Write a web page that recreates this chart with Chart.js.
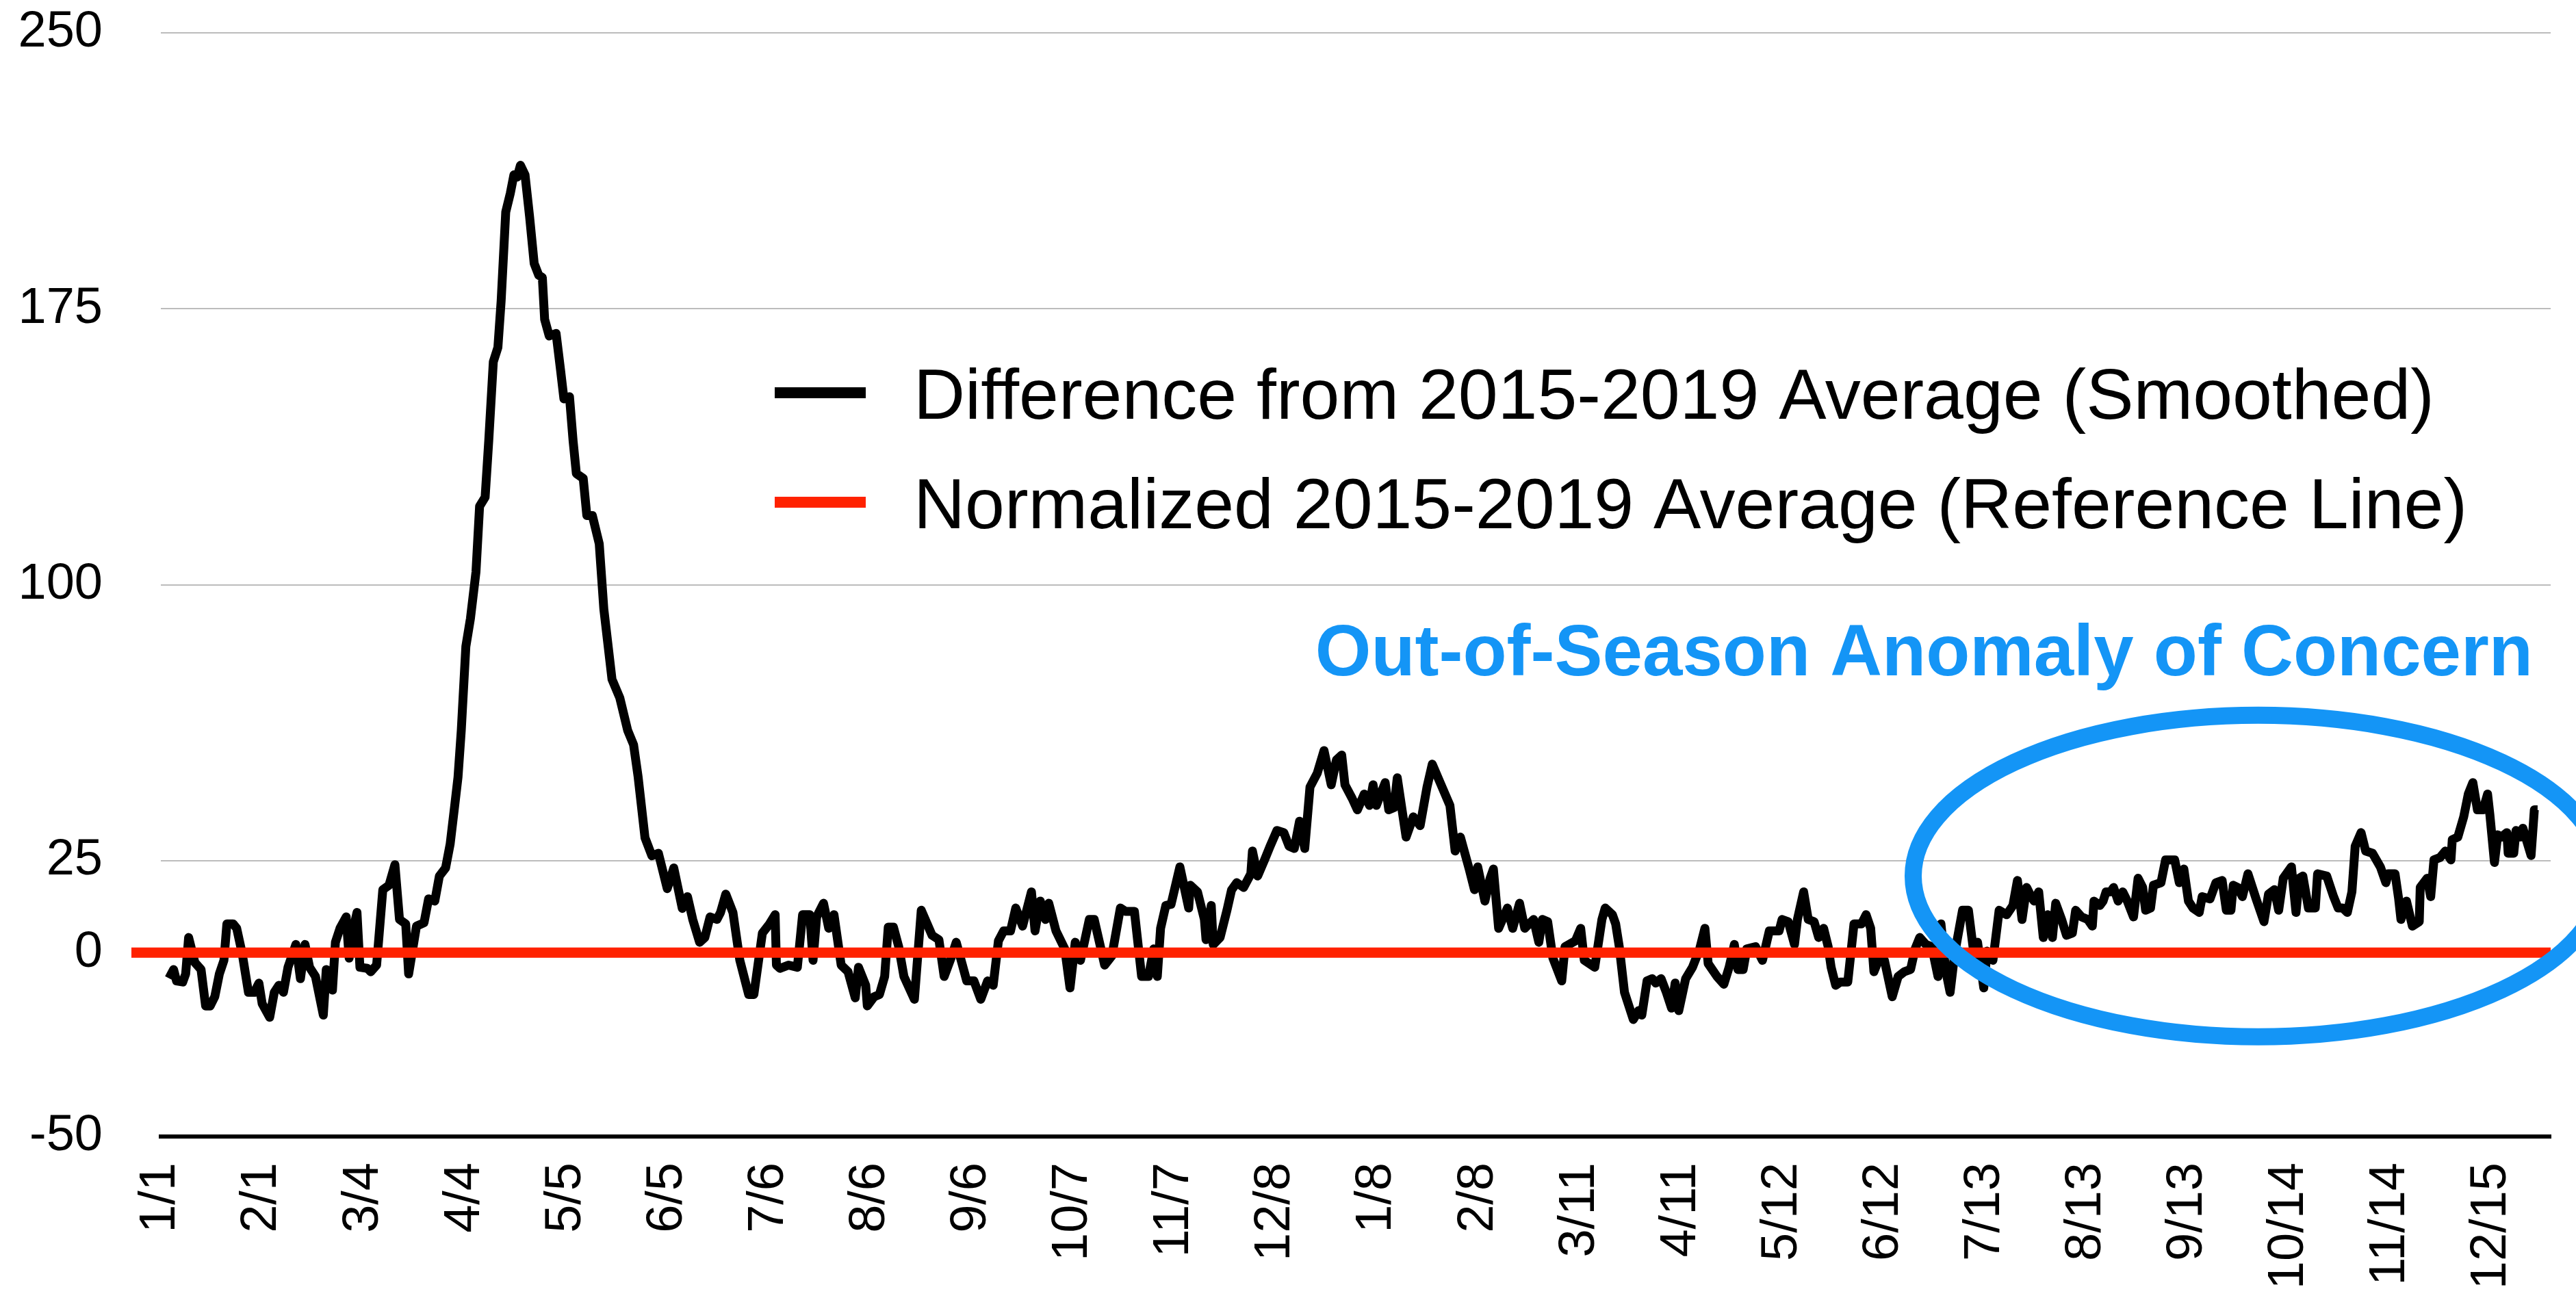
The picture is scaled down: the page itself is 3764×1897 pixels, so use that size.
<!DOCTYPE html>
<html>
<head>
<meta charset="utf-8">
<title>Difference from 2015-2019 Average</title>
<script src="https://cdn.jsdelivr.net/npm/chart.js@4.4.1/dist/chart.umd.min.js"></script>
<style>
  html, body { margin: 0; padding: 0; background: #fff; }
  #wrap { width: 3764px; height: 1897px; }
</style>
</head>
<body>
<div id="wrap"><canvas id="chart" width="3764" height="1897"></canvas></div>
<script>
/* Daily smoothed difference vs the 2015-2019 average, two years of data.
   Day 0 = 1/1 of the first year. */

// x-axis tick labels, one every 31 days
const tickLabels = [
  '1/1', '2/1', '3/4', '4/4', '5/5', '6/5', '7/6', '8/6', '9/6', '10/7', '11/7', '12/8',
  '1/8', '2/8', '3/11', '4/11', '5/12', '6/12', '7/13', '8/13', '9/13', '10/14', '11/14', '12/15',
];
const TICK_STEP = 31;

const yTicks = [-50, 0, 25, 100, 175, 250];

const seriesLabels = [
  'Difference from 2015-2019 Average (Smoothed)',
  'Normalized 2015-2019 Average (Reference Line)',
];
const annotationText = 'Out-of-Season Anomaly of Concern';

const days = [
  2.5, 3.9, 4.8, 6.7, 7.6, 8.5, 10.4, 12.3, 13.7, 15.1, 16.5, 17.9, 19.3, 20.2, 22.1, 23.2,
  24.9, 26.8, 28.6, 30.0, 31.0, 33.3, 34.7, 36.1, 37.5, 38.9, 41.3, 42.7, 44.1, 45.5, 47.3, 49.7,
  50.6, 52.5, 53.4, 54.8, 56.7, 57.6, 58.6, 60.0, 60.9, 63.2, 64.2, 66.0, 67.9, 69.8, 71.6, 73.0,
  74.9, 75.8, 78.2, 80.5, 81.9, 83.8, 85.2, 87.1, 88.5, 89.9, 90.9, 91.9, 93.3, 94.7, 96.4, 97.5,
  99.2, 100.3, 101.7, 103.1, 104.1, 105.5, 106.9, 108.0, 109.0, 110.0, 111.4, 112.8, 114.2, 115.6, 116.7, 117.4,
  118.8, 120.9, 122.3, 123.3, 125.0, 126.1, 127.1, 129.2, 130.3, 132.0, 134.1, 135.5, 138.0, 140.4, 142.8, 144.6,
  146.0, 148.1, 150.2, 152.2, 154.9, 156.9, 159.5, 161.1, 162.7, 164.8, 166.4, 168.0, 170.1, 171.2, 172.8, 175.0,
  177.1, 179.8, 181.4, 184.0, 186.2, 187.9, 188.3, 189.4, 192.0, 194.7, 196.3, 198.5, 199.5, 200.6, 202.7, 204.3,
  205.9, 208.1, 210.2, 212.4, 213.4, 215.6, 216.1, 218.2, 219.8, 221.4, 222.5, 224.1, 225.7, 227.3, 230.5, 232.6,
  235.9, 238.0, 239.6, 241.7, 243.3, 246.5, 248.7, 250.8, 252.9, 254.6, 256.2, 257.8, 259.9, 261.5, 263.6, 266.3,
  267.4, 269.0, 270.6, 271.6, 273.8, 276.5, 278.1, 279.7, 281.3, 284.0, 285.5, 288.7, 290.9, 293.5, 295.1, 297.8,
  300.0, 302.1, 303.7, 304.8, 305.8, 307.4, 309.0, 311.7, 314.4, 314.9, 317.1, 319.2, 319.7, 321.3, 321.9, 324.0,
  326.1, 327.5, 329.1, 331.2, 333.4, 333.9, 335.5, 337.6, 339.3, 341.4, 343.5, 345.1, 346.7, 348.3, 349.9, 351.5,
  353.7, 355.8, 358.0, 359.6, 361.2, 362.2, 364.4, 366.0, 368.1, 369.7, 370.8, 371.8, 374.5, 375.6, 377.2, 378.2,
  380.9, 383.1, 385.2, 387.3, 388.9, 391.6, 394.3, 395.9, 397.5, 400.2, 401.8, 402.8, 405.0, 406.6, 407.6, 409.2,
  411.9, 413.5, 415.6, 417.2, 419.9, 421.5, 422.6, 424.2, 425.8, 428.5, 429.5, 432.7, 434.3, 435.4, 438.6, 440.8,
  441.8, 444.0, 445.0, 446.1, 447.7, 450.4, 452.0, 453.0, 454.6, 456.2, 457.3, 458.9, 460.5, 462.1, 463.2, 464.3,
  466.4, 468.5, 470.7, 472.3, 473.3, 476.0, 478.1, 479.7, 481.3, 482.4, 484.0, 485.1, 487.8, 489.9, 492.0, 495.0,
  495.9, 497.8, 499.7, 500.6, 502.5, 503.9, 505.7, 507.1, 508.6, 510.0, 510.9, 512.3, 513.7, 516.0, 517.9, 520.2,
  521.6, 523.0, 524.0, 525.4, 527.2, 529.6, 531.4, 533.3, 535.2, 536.6, 538.0, 539.9, 541.7, 543.6, 544.5, 545.9,
  547.3, 548.7, 551.1, 552.9, 554.3, 555.7, 557.6, 558.6, 560.4, 562.3, 564.6, 566.5, 567.9, 569.3, 570.7, 572.1,
  573.0, 574.4, 575.8, 577.2, 578.6, 579.6, 581.4, 582.9, 584.7, 585.7, 587.5, 589.4, 590.8, 591.3, 593.1, 594.1,
  595.0, 596.4, 597.3, 598.7, 600.1, 601.5, 603.4, 604.8, 606.2, 607.1, 608.6, 609.5, 611.8, 613.2, 616.0, 617.4,
  618.8, 620.2, 621.6, 623.5, 624.4, 626.8, 628.6, 630.5, 631.8, 633.2, 633.9, 635.3, 636.7, 638.4, 640.9, 643.3,
  644.7, 646.5, 647.8, 649.2, 651.7, 653.1, 654.1, 655.2, 656.9, 659.0, 659.7, 662.5, 664.6, 666.0, 667.4, 668.8,
  670.2, 671.2, 673.0, 674.4, 676.5, 678.9, 680.6, 681.3, 683.4, 684.5, 685.2, 686.9, 688.7, 690.8, 691.1, 693.2,
  694.3, 695.3, 697.1, 698.8, 700.5, 700.9, 702.6, 704.4, 705.8, 707.2, 708.6, 710.3, 711.7, 712.4, 713.8, 714.8,
  715.9, 717.6, 718.0, 719.7, 720.4, 721.8, 722.5, 725.0, 726.0, 727.0,
];

const diffValues = [
  -7, -4.6, -7.7, -8, -5.8, 4.1, -2.7, -4.6, -14.5, -14.5, -12, -5.8, -2.1, 7.8, 7.8, 6.6,
  -0.3, -10.8, -10.8, -8.3, -13.9, -17.6, -10.8, -8.9, -10.8, -4, 2.2, -7.1, 2.2, -4, -6.5, -17,
  -4.6, -10.2, 2.8, 6.6, 9.7, -1.5, 5.3, 10.9, -4, -4.3, -5.2, -3.4, 17.1, 18.3, 23.9, 9,
  7.8, -5.8, 7.2, 8.1, 14.6, 14, 20.8, 23, 29.5, 40, 47.7, 60.4, 83.2, 90.8, 103.5, 121.3,
  123.8, 139.1, 160.6, 164.5, 177.2, 201.3, 206.4, 211.4, 210.8, 214, 211.4, 200, 187.3, 184.1, 183.5, 172.1,
  167.6, 168.3, 158.1, 150.5, 151.1, 139.1, 130.2, 128.9, 118.8, 118.8, 111.1, 93.4, 74.3, 69.2, 60.4, 56.5,
  47.7, 31.2, 26.3, 27, 17.4, 23, 12, 15.2, 9, 2.8, 4.1, 9.7, 9, 10.9, 15.9, 10.9,
  -2.1, -11.4, -11.4, 5.3, 7.8, 10.3, -3.4, -4.3, -3.4, -4, 10.3, 10.3, -2.1, 9.7, 13.4, 6.6,
  10.3, -3.4, -5.2, -12.3, -4, -8.9, -14.5, -12, -11.4, -6.5, 6.9, 6.9, 1.6, -6.5, -12.7, 11.5,
  4.7, 3.5, -6.5, -1.5, 2.8, -7.7, -7.7, -12.7, -7.7, -8.9, 3.2, 5.9, 5.9, 12.1, 7.2, 16.5,
  5.9, 14, 9, 13.4, 5.9, 1, -9.6, 2.8, -2.1, 9, 9, -3.4, -0.9, 12.1, 11.2, 11.2,
  -6.5, -6.5, 1, -6.5, 6.6, 12.8, 13.1, 23.3, 12.1, 18.3, 16.5, 9, 3.5, 12.8, 2.2, 4.1,
  11.5, 17, 19, 17.7, 21.4, 27.6, 20.8, 25.2, 28.9, 33.2, 32.6, 28.9, 28.3, 35.7, 28.3, 45,
  48.7, 54.9, 45.6, 52.4, 53.7, 45.6, 41.9, 38.8, 43.1, 40, 45.6, 40, 46.2, 38.8, 39.4, 47.5,
  31.4, 36.9, 34.5, 45, 51.2, 45.6, 40, 27.6, 31.4, 22.7, 17.1, 23.3, 14, 20.2, 22.7, 6.6,
  12.1, 6.6, 13.4, 6.6, 9, 2.8, 9, 8.4, -1.5, -7.7, 1.6, 3.2, 6.6, -2.1, -4, 9,
  12.1, 10.3, 7.8, 1.6, -10.8, -18.2, -15.8, -17, -7.7, -7.1, -8.3, -7.1, -10.8, -15.1, -8.3, -15.8,
  -7.1, -4, 1, 6.6, -3, -6.5, -8.6, -4, 2.2, -4.6, -4.6, 1, 1.6, -2.1, 5.9, 5.9,
  9, 8.4, 2.2, 9, 16.5, 9, 8.4, 4.1, 6.6, 1.6, -4, -8.9, -8, -8, 7.8, 7.8,
  10.3, 6.6, -5.2, -2.1, -2.1, -12, -6.5, -5.2, -4.6, 1, 4.1, 2.2, 1.6, -6.5, 7.8, -4.6,
  -10.8, -0.3, 11.5, 11.5, 1.6, 2.8, -9.6, 0.4, -2.1, 11.5, 10.3, 12.8, 19.6, 9, 17.7, 15.2,
  14, 16.5, 4.1, 10.3, 4.1, 13.4, 9, 4.7, 5.3, 11.5, 9.7, 9, 7.2, 14, 12.8, 14,
  16.5, 16.5, 17.7, 14, 16.5, 14, 9.7, 20.2, 17.7, 11.5, 12.1, 18.3, 19, 25.2, 25.2, 19,
  22.7, 14, 12.1, 10.9, 15.2, 14.6, 19, 19.6, 11.5, 11.5, 18.3, 17.7, 15.2, 21.4, 14.6, 8.4,
  15.9, 17.1, 11.5, 20.2, 23.3, 10.9, 20.2, 20.8, 12.1, 12.1, 21.4, 20.8, 15.2, 12.1, 12.1, 10.9,
  16.5, 28.9, 32.6, 27.6, 27, 23.3, 19, 21.4, 21.4, 14.6, 9, 14, 7.2, 8.4, 17.7, 20.2,
  15.2, 25.2, 25.8, 27.6, 25.2, 30.7, 31.4, 36.9, 43.1, 46.2, 38.8, 38.8, 43.1, 37.5, 24.5, 32,
  31.4, 32.6, 27, 27, 33.2, 31.4, 33.8, 26.4, 38.8, 38.8,
];

// the flat reference line (it runs a little past the left edge of the plot)
const refDays = [-9, 731];
const refValues = [0, 0];

const FONT = '"Liberation Sans", Arial, Helvetica, sans-serif';
const BLUE = '#1495f6';
const RED = '#ff2200';

// Legend, callout text and the ellipse round the anomaly
const overlayPlugin = {
  id: 'overlay',
  afterDatasetsDraw(chart) {
    const { ctx, scales: { x, y } } = chart;
    ctx.save();

    // ellipse, placed in data units
    const cx = x.getPixelForValue(641.5);
    const cy = y.getPixelForValue(20.8);
    const rx = x.getPixelForValue(641.5 + 105.5) - cx;
    const ry = cy - y.getPixelForValue(20.8 + 43.7);
    ctx.beginPath();
    ctx.ellipse(cx, cy, rx, ry, 0, 0, Math.PI * 2);
    ctx.strokeStyle = BLUE;
    ctx.lineWidth = 25;
    ctx.stroke();

    ctx.font = 'bold 105px ' + FONT;
    ctx.fillStyle = BLUE;
    ctx.textAlign = 'right';
    ctx.textBaseline = 'alphabetic';
    ctx.fillText(annotationText, 3701, 987);

    // legend rows
    const rows = [574, 734];
    ctx.font = '104px ' + FONT;
    ctx.textAlign = 'left';
    chart.data.datasets.forEach((ds, i) => {
      ctx.fillStyle = ds.borderColor;
      ctx.fillRect(1132, rows[i] - 8, 133, 16);
      ctx.fillStyle = '#000';
      ctx.fillText(ds.label, 1335, rows[i] + 38);
    });
    ctx.restore();
  },
};

const tickFont = { family: FONT, size: 74 };

// keep the tick labels from pushing the plot area inwards
function noLabelPadding(s) {
  s.paddingTop = 0;
  s.paddingBottom = 0;
  s.paddingLeft = 0;
  s.paddingRight = 0;
}

new Chart(document.getElementById('chart'), {
  type: 'line',
  data: {
    datasets: [
      {
        label: seriesLabels[0],
        data: days.map((d, i) => ({ x: d, y: diffValues[i] })),
        borderColor: '#000',
        borderWidth: 13,
        borderJoinStyle: 'round',
        pointRadius: 0,
        tension: 0,
        order: 2,
      },
      {
        label: seriesLabels[1],
        data: refDays.map((d, i) => ({ x: d, y: refValues[i] })),
        borderColor: RED,
        borderWidth: 15,
        pointRadius: 0,
        clip: false,
        order: 1,
      },
    ],
  },
  options: {
    responsive: false,
    animation: false,
    layout: { padding: { top: 48, right: 37, left: 0, bottom: 0 } },
    plugins: { legend: { display: false }, tooltip: { enabled: false } },
    scales: {
      x: {
        type: 'linear',
        min: 0,
        max: 731,
        afterBuildTicks: (s) => { s.ticks = tickLabels.map((_, i) => ({ value: i * TICK_STEP })); },
        afterFit: (s) => { s.height = 236; noLabelPadding(s); },
        ticks: {
          autoSkip: false,
          minRotation: 90,
          maxRotation: 90,
          padding: 38,
          color: '#000',
          font: tickFont,
          callback: (v, i) => tickLabels[i],
        },
        grid: { display: false, drawTicks: false },
        border: { display: true, color: '#000', width: 6 },
      },
      y: {
        min: -50,
        max: 250,
        afterBuildTicks: (s) => { s.ticks = yTicks.map((v) => ({ value: v })); },
        afterFit: (s) => { s.width = 235; noLabelPadding(s); },
        ticks: { padding: 85, color: '#000', font: tickFont },
        grid: {
          color: (c) => (c.tick && c.tick.value === 0 ? 'rgba(0,0,0,0)' : '#bcbcbc'),
          lineWidth: 2,
          drawTicks: false,
        },
        border: { display: false },
      },
    },
  },
  plugins: [overlayPlugin],
});
</script>
</body>
</html>
